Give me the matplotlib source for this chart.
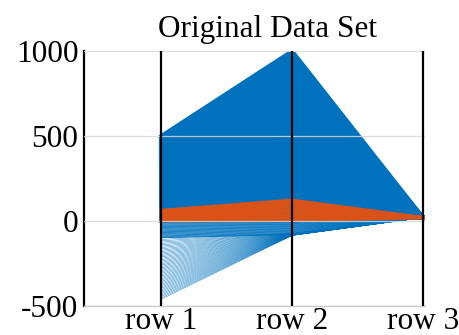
import matplotlib
matplotlib.use("Agg")
import matplotlib.pyplot as plt
import numpy as np

# ---- data ----
row_labels = ["row 1", "row 2", "row 3"]
y_ticks = [-500, 0, 500, 1000]
y_tick_labels = ["-500", "0", "500", "1000"]

# blue group: sparse fan from low row-1 values converging near -80 at row 2
fan_row1 = [-460, -452, -444, -436, -428, -420, -412, -404, -396, -388, -380,
            -372, -364, -356, -348, -340, -332, -324, -316, -308, -300,
            -292, -284, -276, -268, -260, -252, -244, -236, -228, -220,
            -212, -204, -196, -188, -180, -172, -164, -156, -148, -140,
            -132, -124, -116, -108, -100]
fan_row2 = [-85, -85, -85, -84, -84, -84, -84, -83, -83, -83, -83,
            -82, -82, -82, -82, -81, -81, -81, -81, -80, -80,
            -80, -80, -79, -79, -79, -79, -78, -78, -78, -78,
            -77, -77, -77, -77, -76, -76, -76, -76, -75, -75,
            -75, -75, -74, -74, -73]
# blue group: medium density band just below zero
mid_row1 = [-98, -93, -88, -83, -78, -73, -68, -63, -58, -53,
            -48, -43, -38, -33, -28, -23, -18, -13, -8, -3]
mid_row2 = [-80, -76, -72, -68, -64, -60, -56, -52, -48, -44,
            -40, -36, -32, -28, -24, -20, -16, -12, -8, -4]
# blue group: dense band up to the 1000 peak at row 2
dense_row1 = [0, 10, 20, 30, 40, 50, 60, 70, 80, 90, 100, 110, 120, 130, 140,
              150, 160, 170, 180, 190, 200, 210, 220, 230, 240, 250, 260, 270,
              280, 290, 300, 310, 320, 330, 340, 350, 360, 370, 380, 390, 400,
              410, 420, 430, 440, 450, 460, 470, 480, 490, 500]
dense_row2 = [0, 20, 40, 60, 80, 100, 120, 140, 160, 180, 200, 220, 240, 260,
              280, 300, 320, 340, 360, 380, 400, 420, 440, 460, 480, 500, 520,
              540, 560, 580, 600, 620, 640, 660, 680, 700, 720, 740, 760, 780,
              800, 820, 840, 860, 880, 900, 920, 940, 960, 980, 1000]
# orange group
orange_row1 = [2, 10, 19, 28, 37, 46, 55, 62]
orange_row2 = [4, 20, 37, 55, 72, 90, 108, 122]
# all lines meet at row 3
row3_value = 20

BLUE = "#0072BD"
ORANGE = "#D95319"

plt.rcParams["font.family"] = ["Liberation Serif", "DejaVu Serif"]

fig = plt.figure(figsize=(4.6, 3.35), dpi=100)
ax = fig.add_axes([84 / 460, 1 - 306 / 335, (425 - 84) / 460, (306 - 51) / 335])

xs = [1, 2, 3]


def draw(r1, r2, color, lw):
    r3 = [row3_value] * len(r1)
    ys = np.vstack([r1, r2, r3])
    ax.plot(xs, ys, color=color, lw=lw, solid_joinstyle="round", zorder=2)


draw(fan_row1, fan_row2, BLUE, 0.3)
draw(mid_row1, mid_row2, BLUE, 0.6)
draw(dense_row1, dense_row2, BLUE, 2.8)
draw(orange_row1, orange_row2, ORANGE, 2.4)

for x in xs:
    ax.axvline(x, color="black", lw=1.6, zorder=3)

ax.set_xlim(0.41, 3.015)
ax.set_ylim(-500, 1000)
ax.set_xticks(xs)
ax.set_xticklabels(row_labels)
ax.set_yticks(y_ticks)
ax.set_yticklabels(y_tick_labels)
ax.tick_params(axis="both", length=0, labelsize=22.5)
ax.tick_params(axis="x", pad=1)
ax.tick_params(axis="y", pad=4)

ax.yaxis.grid(True, color="#d8d8d8", lw=0.9, alpha=0.85)
ax.set_axisbelow(False)
ax.xaxis.grid(False)

for s in ["top", "right"]:
    ax.spines[s].set_visible(False)
ax.spines["left"].set_color("black")
ax.spines["left"].set_linewidth(1.6)
ax.spines["bottom"].set_color("#cccccc")
ax.spines["bottom"].set_linewidth(1.0)

fig.text(268 / 460, 1 - 37 / 335, "Original Data Set", ha="center",
         va="baseline", fontsize=22.5)

fig.savefig("out.png", dpi=100)
